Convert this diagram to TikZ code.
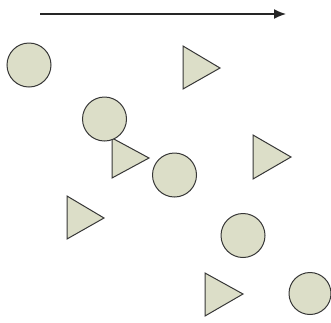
\documentclass[tikz,border=0pt]{standalone}
\usetikzlibrary{arrows.meta}
\definecolor{shapefill}{RGB}{220,222,200}
\definecolor{shapeline}{RGB}{55,55,55}
\tikzset{
  ball/.style={circle, draw=shapeline, fill=shapefill, line width=1pt, minimum size=44pt, inner sep=0pt},
  tri/.style={draw=shapeline, fill=shapefill, line width=1pt, line join=miter},
  timearrow/.style={draw=black!85, line width=1.5pt, -{Latex[length=12pt,width=10pt]}}
}
\begin{document}
\begin{tikzpicture}[x=1pt,y=-1pt]
\useasboundingbox (0,0) rectangle (331,322);
\coordinate (as) at (40,14);
\coordinate (ae) at (286,14);
\draw[timearrow] (as) -- (ae);
\draw[tri] (183,46) -- (220,68) -- (183,89) -- cycle;
\draw[tri] (112,138) -- (149,158) -- (112,178) -- cycle;
\draw[tri] (253,135) -- (291,157) -- (253,179) -- cycle;
\draw[tri] (67,196) -- (104,218) -- (67,239) -- cycle;
\draw[tri] (205,273) -- (243,294) -- (205,316) -- cycle;
\node[ball] (c1) at (29,65) {};
\node[ball] (c2) at (104.5,119) {};
\node[ball] (c3) at (174.5,175) {};
\node[ball] (c4) at (243,235.5) {};
\node[ball, minimum size=42pt] (c5) at (310,293.5) {};
\end{tikzpicture}
\end{document}
